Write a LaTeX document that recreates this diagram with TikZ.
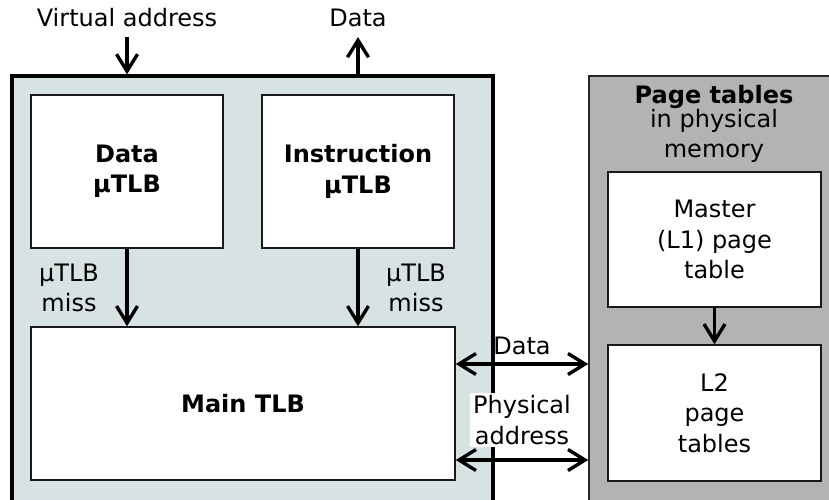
\documentclass[tikz,border=0pt]{standalone}
\usepackage{fontspec}
\setmainfont{DejaVu Sans}
\usetikzlibrary{arrows.meta}
\definecolor{tlbbg}{HTML}{D7E3E3}
\definecolor{ptbg}{HTML}{B3B3B3}
\tikzset{
  box/.style={draw=black!90, line width=0.75pt, fill=white, inner sep=0pt, align=center},
  barb/.tip={Straight Barb[length=8.5pt,width=10.5pt]},
  arr/.style={line width=1.7pt, -barb},
  darr/.style={line width=1.7pt, barb-barb},
  lbl/.style={align=center, inner sep=0pt}
}
\begin{document}
\begin{tikzpicture}[x=0.5pt,y=-0.5pt, font=\fontsize{12pt}{15.2pt}\selectfont]
\useasboundingbox (0,0) rectangle (829,499);
\clip (0,0) rectangle (829,499);
% outer boxes
\node[draw=black, line width=1.6pt, fill=tlbbg, minimum width=240.5pt, minimum height=217pt, inner sep=0pt] (outer) at (252.5,293) {};
\node[draw=black!85, line width=0.75pt, fill=ptbg, minimum width=130.5pt, minimum height=217pt, inner sep=0pt] (pt) at (719.5,293) {};
% inner boxes
\node[box, minimum width=96pt, minimum height=76.5pt] (dtlb) at (127,171.5) {\textbf{Data}\\\textbf{µTLB}};
\node[box, minimum width=96pt, minimum height=76.5pt] (itlb) at (358,171.5) {\textbf{Instruction}\\\textbf{µTLB}};
\node[box, minimum width=212pt, minimum height=76.5pt] (main) at (243,403.5) {\textbf{Main TLB}};
\node[box, minimum width=106.5pt, minimum height=67.5pt] (master) at (714.5,239.5) {Master\\(L1) page\\table};
\node[box, minimum width=106.5pt, minimum height=68pt] (l2) at (714.5,413) {L2\\page\\tables};
% page tables title
\node[lbl] (pttitle) at (714,97) {\textbf{Page tables}};
\node[lbl] (ptsub1) at (714,121) {in physical};
\node[lbl] (ptsub2) at (714,153) {memory};
% top labels and arrows
\node[lbl] (va) at (127,18) {Virtual address};
\node[lbl] (dout) at (358,18) {Data};
\coordinate (vastart) at (127,37);
\coordinate (doutend) at (358,37);
\draw[arr] (vastart) -- (vastart |- outer.north);
\draw[arr] (doutend |- outer.north) -- (doutend);
% miss arrows
\draw[arr] (dtlb.south) -- (dtlb.south |- main.north);
\draw[arr] (itlb.south) -- (itlb.south |- main.north);
\node[lbl] (miss1) at (69,288) {µTLB\\miss};
\node[lbl] (miss2) at (416,288) {µTLB\\miss};
% master to L2
\draw[arr] (master.south) -- (l2.north);
% data / physical address
\coordinate (datay) at (0,364);
\coordinate (physy) at (0,460);
\draw[darr] (main.east |- datay) -- (pt.west |- datay);
\node[lbl] (datalbl) at (522,346) {Data};
\node[lbl, fill=white, inner sep=1.5pt] (physlbl) at (522,420) {Physical\\address};
\draw[darr] (main.east |- physy) -- (pt.west |- physy);
\end{tikzpicture}
\end{document}
